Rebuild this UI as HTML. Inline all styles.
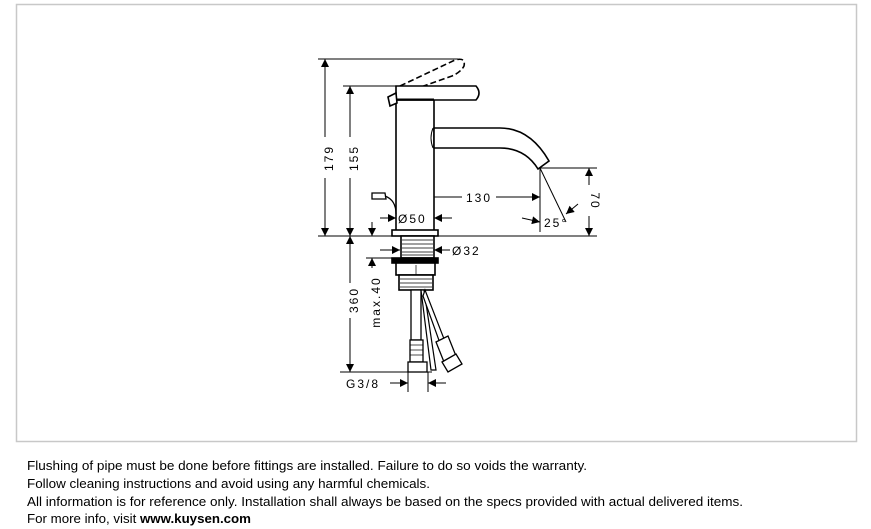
<!DOCTYPE html>
<html><head><meta charset="utf-8"><style>
html,body{margin:0;padding:0;background:#fff;}
svg{display:block;}
</style></head><body>
<svg width="871" height="529" viewBox="0 0 871 529" xmlns="http://www.w3.org/2000/svg" font-family="Liberation Sans, sans-serif">
<defs>
<marker id="a" viewBox="0 0 10 10" refX="10" refY="5" markerWidth="10" markerHeight="8" orient="auto-start-reverse" markerUnits="userSpaceOnUse"><path d="M0,0 L10,5 L0,10z" fill="#000"/></marker>
</defs>
<rect x="16.5" y="4.5" width="840" height="437" fill="#fff" stroke="#c8c8c8" stroke-width="1.5"/>
<g stroke="#000" stroke-width="1" fill="none">
<!-- extension lines -->
<line x1="318" y1="59" x2="458" y2="59"/>
<line x1="343" y1="86" x2="396" y2="86"/>
<line x1="318" y1="236" x2="597" y2="236"/>
<line x1="340" y1="372" x2="432" y2="372"/>
<line x1="540" y1="168" x2="597" y2="168"/>
<!-- 179 -->
<line x1="325" y1="59" x2="325" y2="137" marker-start="url(#a)"/>
<line x1="325" y1="178" x2="325" y2="236" marker-end="url(#a)"/>
<!-- 155 -->
<line x1="350" y1="86" x2="350" y2="137" marker-start="url(#a)"/>
<line x1="350" y1="178" x2="350" y2="236" marker-end="url(#a)"/>
<!-- 360 -->
<line x1="350" y1="236" x2="350" y2="283" marker-start="url(#a)"/>
<line x1="350" y1="318" x2="350" y2="372" marker-end="url(#a)"/>
<!-- max 40 -->
<line x1="372" y1="222" x2="372" y2="236" marker-end="url(#a)"/>
<line x1="372" y1="258" x2="372" y2="268" marker-start="url(#a)"/>
<line x1="366" y1="258" x2="392" y2="258"/>
<!-- 70 -->
<line x1="589" y1="168" x2="589" y2="185" marker-start="url(#a)"/>
<line x1="589" y1="216" x2="589" y2="236" marker-end="url(#a)"/>
<!-- 130 -->
<line x1="415" y1="197" x2="462" y2="197" marker-start="url(#a)"/>
<line x1="496" y1="197" x2="540" y2="197" marker-end="url(#a)"/>
<line x1="415" y1="190" x2="415" y2="205"/>
<line x1="540" y1="168" x2="540" y2="232"/>
<!-- 25 deg -->
<line x1="540" y1="168" x2="566" y2="222"/>
<line x1="522" y1="218" x2="540" y2="222" marker-end="url(#a)"/>
<line x1="578" y1="204" x2="566" y2="214" marker-end="url(#a)"/>
<!-- Ø50 -->
<line x1="380" y1="218" x2="396" y2="218" marker-end="url(#a)"/>
<line x1="452" y1="218" x2="434" y2="218" marker-end="url(#a)"/>
<!-- Ø32 -->
<line x1="380" y1="250" x2="400" y2="250" marker-end="url(#a)"/>
<line x1="450" y1="250" x2="434" y2="250" marker-end="url(#a)"/>
<!-- G3/8 -->
<line x1="390" y1="383" x2="408" y2="383" marker-end="url(#a)"/>
<line x1="446" y1="383" x2="428" y2="383" marker-end="url(#a)"/>
<line x1="408" y1="372" x2="408" y2="392"/>
<line x1="428" y1="372" x2="428" y2="392"/>
</g>
<!-- faucet -->
<g stroke="#000" stroke-width="1.6" fill="#fff">
<path d="M400,86 L455,60 Q466,57 464,66 Q461,72 452,76 L418,88" stroke-dasharray="6,3" fill="none"/>
<rect x="396" y="100" width="38" height="132"/>
<path d="M396,86 L476,86 Q482,93 476,100 L396,100z"/>
<line x1="396" y1="99" x2="434" y2="99" stroke-width="1"/>
<path d="M388,97 L396,93 L397,103 L390,106z"/>
<path d="M434,128 L500,128 Q530,128 549,161 L538,169 Q525,148 500,148 L434,148z"/>
<path d="M433,128 Q429,138 433,148" fill="none" stroke-width="1"/>
<path d="M372,193 L385,193 L386,199 L372,199z" stroke-width="1.3"/>
<path d="M385,196 Q396,200 396,214" fill="none" stroke-width="1.2"/>
<rect x="392" y="230" width="46" height="6"/>
<rect x="401" y="236" width="33" height="22"/>
<rect x="392" y="258" width="46" height="5" fill="#000"/>
<rect x="396" y="263" width="39" height="12"/>
<rect x="399" y="275" width="34" height="15"/>
<rect x="411" y="290" width="10" height="50" stroke-width="1.3"/>
<rect x="410" y="340" width="13" height="22" stroke-width="1.3"/>
<rect x="408" y="362" width="19" height="10" stroke-width="1.3"/>
<path d="M424,290 L436,370 L431,370 L421,290z" stroke-width="1.2"/>
<path d="M425,290 L446,344 L441,346 L423,296z" stroke-width="1.2"/>
<path d="M436,342 L448,336 L456,356 L444,362z" stroke-width="1.3"/>
<path d="M442,362 L456,354 L462,364 L448,372z" stroke-width="1.3"/>
</g>
<g stroke="#000" stroke-width="0.7">
<line x1="402" y1="240" x2="433" y2="240"/><line x1="402" y1="244" x2="433" y2="244"/><line x1="402" y1="248" x2="433" y2="248"/><line x1="402" y1="252" x2="433" y2="252"/><line x1="402" y1="255" x2="433" y2="255"/>
<line x1="400" y1="279" x2="432" y2="279"/><line x1="400" y1="283" x2="432" y2="283"/><line x1="400" y1="287" x2="432" y2="287"/>
<line x1="410" y1="345" x2="423" y2="345"/><line x1="410" y1="350" x2="423" y2="350"/><line x1="410" y1="355" x2="423" y2="355"/>
<line x1="416" y1="265" x2="416" y2="275"/>
</g>
<!-- labels -->
<g font-size="12" fill="#000" letter-spacing="2">
<text x="330" y="158" transform="rotate(-90 330 158)" text-anchor="middle" dominant-baseline="middle">179</text>
<text x="355" y="158" transform="rotate(-90 355 158)" text-anchor="middle" dominant-baseline="middle">155</text>
<text x="355" y="300" transform="rotate(-90 355 300)" text-anchor="middle" dominant-baseline="middle">360</text>
<text x="377" y="302" transform="rotate(-90 377 302)" text-anchor="middle" dominant-baseline="middle">max.40</text>
<text x="594" y="201" transform="rotate(90 594 201)" text-anchor="middle" dominant-baseline="middle">70</text>
<text x="466" y="202">130</text>
<text x="398" y="223">Ø50</text>
<text x="452" y="255">Ø32</text>
<text x="544" y="227">25°</text>
<text x="346" y="388">G3/8</text>
</g>
<g font-size="12.5" fill="#000">
<text x="27" y="470" textLength="560" lengthAdjust="spacingAndGlyphs">Flushing of pipe must be done before fittings are installed. Failure to do so voids the warranty.</text>
<text x="27" y="488" textLength="403" lengthAdjust="spacingAndGlyphs">Follow cleaning instructions and avoid using any harmful chemicals.</text>
<text x="27" y="506" textLength="716" lengthAdjust="spacingAndGlyphs">All information is for reference only. Installation shall always be based on the specs provided with actual delivered items.</text>
<text x="27" y="523" textLength="224" lengthAdjust="spacingAndGlyphs">For more info, visit <tspan font-weight="bold">www.kuysen.com</tspan></text>
</g>
</svg>
</body></html>
